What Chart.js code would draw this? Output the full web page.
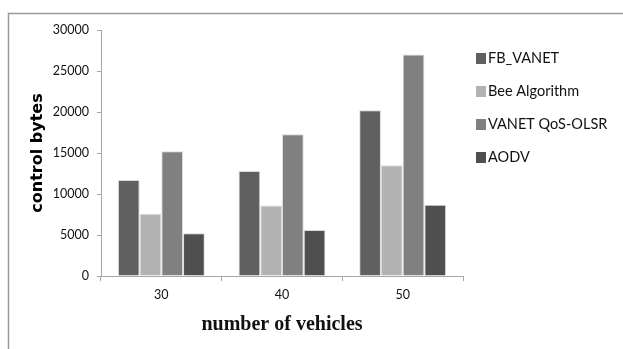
<!DOCTYPE html>
<html>
<head>
<meta charset="utf-8">
<script src="https://cdn.jsdelivr.net/npm/chart.js@4/dist/chart.umd.min.js"></script>
<style>
  html, body { margin: 0; padding: 0; background: #fff; }
  #wrap { width: 623px; height: 349px; }
</style>
</head>
<body>
<div id="wrap"><canvas id="c" width="623" height="349"></canvas></div>
<script>
// Control overhead per protocol, by number of vehicles
const categories = ['30', '40', '50'];
const seriesNames = ['FB_VANET', 'Bee Algorithm', 'VANET QoS-OLSR', 'AODV'];
const fbVanet = [11700, 12800, 20200];
const beeAlgorithm = [7600, 8600, 13500];
const vanetQosOlsr = [15200, 17300, 27000];
const aodv = [5200, 5600, 8700];
const yTicks = [0, 5000, 10000, 15000, 20000, 25000, 30000];

const fills = ['#606060', '#b3b3b3', '#808080', '#4f4f4f'];
const seriesValues = [fbVanet, beeAlgorithm, vanetQosOlsr, aodv];

const axisGray = '#a6a6a6';
const tickFont = { family: 'Lato, "Liberation Sans", sans-serif', size: 12.5 };

// Outer frame (top and left edges) behind the chart
const framePlugin = {
  id: 'frame',
  beforeDraw(chart) {
    const ctx = chart.ctx;
    ctx.save();
    ctx.strokeStyle = '#9a9a9a';
    ctx.lineWidth = 1.5;
    ctx.beginPath();
    ctx.moveTo(8.5, chart.height);
    ctx.lineTo(8.5, 13.5);
    ctx.lineTo(chart.width, 13.5);
    ctx.stroke();
    ctx.restore();
  }
};

// Legend column on the right, built from the datasets
const sideLegend = {
  id: 'sideLegend',
  afterDraw(chart) {
    const ctx = chart.ctx;
    ctx.save();
    ctx.font = '14.5px Lato, "Liberation Sans", sans-serif';
    ctx.textBaseline = 'middle';
    ctx.textAlign = 'left';
    chart.data.datasets.forEach((ds, i) => {
      const y = 58 + i * 33;
      ctx.fillStyle = ds.backgroundColor;
      ctx.fillRect(476, y - 5, 10, 11);
      ctx.fillStyle = '#111';
      ctx.fillText(ds.label, 488, y);
    });
    ctx.restore();
  }
};

new Chart(document.getElementById('c'), {
  type: 'bar',
  data: {
    labels: categories,
    datasets: seriesNames.map((name, i) => ({
      label: name,
      data: seriesValues[i],
      backgroundColor: fills[i],
      borderColor: 'rgba(215,215,215,0.9)',
      borderWidth: 1,
      categoryPercentage: 0.72,
      barPercentage: 1.0
    }))
  },
  options: {
    responsive: false,
    animation: false,
    layout: { padding: { left: 0, top: 30, right: 160, bottom: 0 } },
    plugins: {
      legend: { display: false },
      tooltip: { enabled: false }
    },
    scales: {
      x: {
        afterFit(scale) { scale.height = 73; },
        border: { color: axisGray, width: 1 },
        grid: { drawOnChartArea: false, tickLength: 5, color: axisGray },
        ticks: { font: tickFont, color: '#111', padding: 6 },
        title: {
          display: true,
          text: 'number of vehicles',
          font: { family: '"Liberation Serif", "Times New Roman", serif', size: 20, weight: 'bold' },
          color: '#111',
          padding: { top: 0, bottom: 12 }
        }
      },
      y: {
        min: 0,
        max: 30000,
        afterFit(scale) { scale.width = 101; },
        afterBuildTicks(scale) { scale.ticks = yTicks.map(v => ({ value: v })); },
        border: { color: axisGray, width: 1 },
        grid: { drawOnChartArea: false, tickLength: 4, color: axisGray },
        ticks: { font: tickFont, color: '#111', padding: 8, callback: v => String(v) },
        title: {
          display: true,
          text: 'control bytes',
          font: { family: '"DejaVu Sans", Verdana, sans-serif', size: 16, weight: 'bold' },
          color: '#000',
          padding: { top: 28, bottom: 0 }
        }
      }
    }
  },
  plugins: [framePlugin, sideLegend]
});
</script>
</body>
</html>
